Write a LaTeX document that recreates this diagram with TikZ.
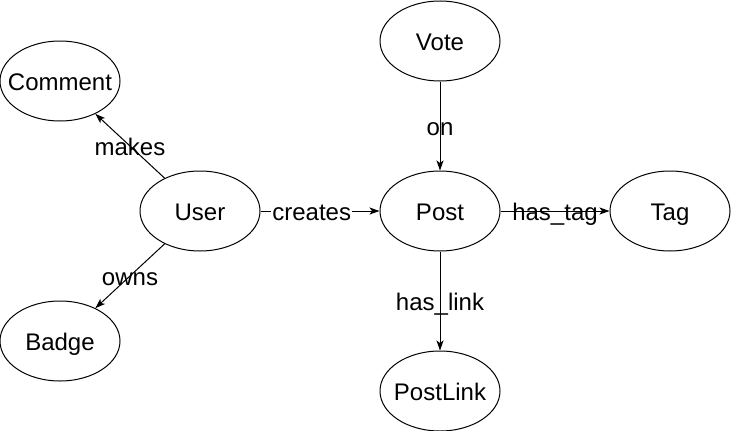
\documentclass[tikz,border=0pt]{standalone}
\usepackage{fontspec}
\setmainfont{Liberation Sans}
\usetikzlibrary{shapes.geometric,arrows.meta}
\tikzset{
  entity/.style={ellipse,draw=black,line width=1pt,minimum width=120pt,minimum height=80pt,inner sep=0pt,
    font=\fontsize{24}{28}\selectfont,text height=20pt,text depth=2pt},
  rel/.style={draw=black,line width=1pt,-{Stealth[length=10pt,width=7pt,inset=2.5pt]}},
  lbl/.style={font=\fontsize{24}{28}\selectfont,inner sep=1pt,text height=20pt,text depth=2pt},
  lblbg/.style={lbl,fill=white}
}
\newcommand{\ent}[1]{\makebox[0pt][c]{#1}}
\begin{document}
\begin{tikzpicture}[x=1pt,y=-1pt]
\useasboundingbox (0,0) rectangle (731,431);
\node[entity] (comment) at (60,81) {\ent{Comment}};
\node[entity] (vote) at (440,41) {\ent{Vote}};
\node[entity] (user) at (200,211) {\ent{User}};
\node[entity] (post) at (440,211) {\ent{Post}};
\node[entity] (tag) at (670,211) {\ent{Tag}};
\node[entity] (badge) at (60,341) {\ent{Badge}};
\node[entity] (postlink) at (440,391) {\ent{PostLink}};
\draw[rel] (user) -- node[lbl,pos=0.5] (lmakes) {makes} (comment);
\draw[rel] (user) -- node[lbl,pos=0.5] (lowns) {owns} (badge);
\draw[rel] (user) -- node[lblbg,pos=0.43] (lcreates) {creates} (post);
\draw[rel] (vote) -- node[lbl,pos=0.5] (lon) {on} (post);
\draw[rel] (post) -- node[lbl,pos=0.5] (lhastag) {has\_tag} (tag);
\draw[rel] (post) -- node[lbl,pos=0.5] (lhaslink) {has\_link} (postlink);
\end{tikzpicture}
\end{document}
